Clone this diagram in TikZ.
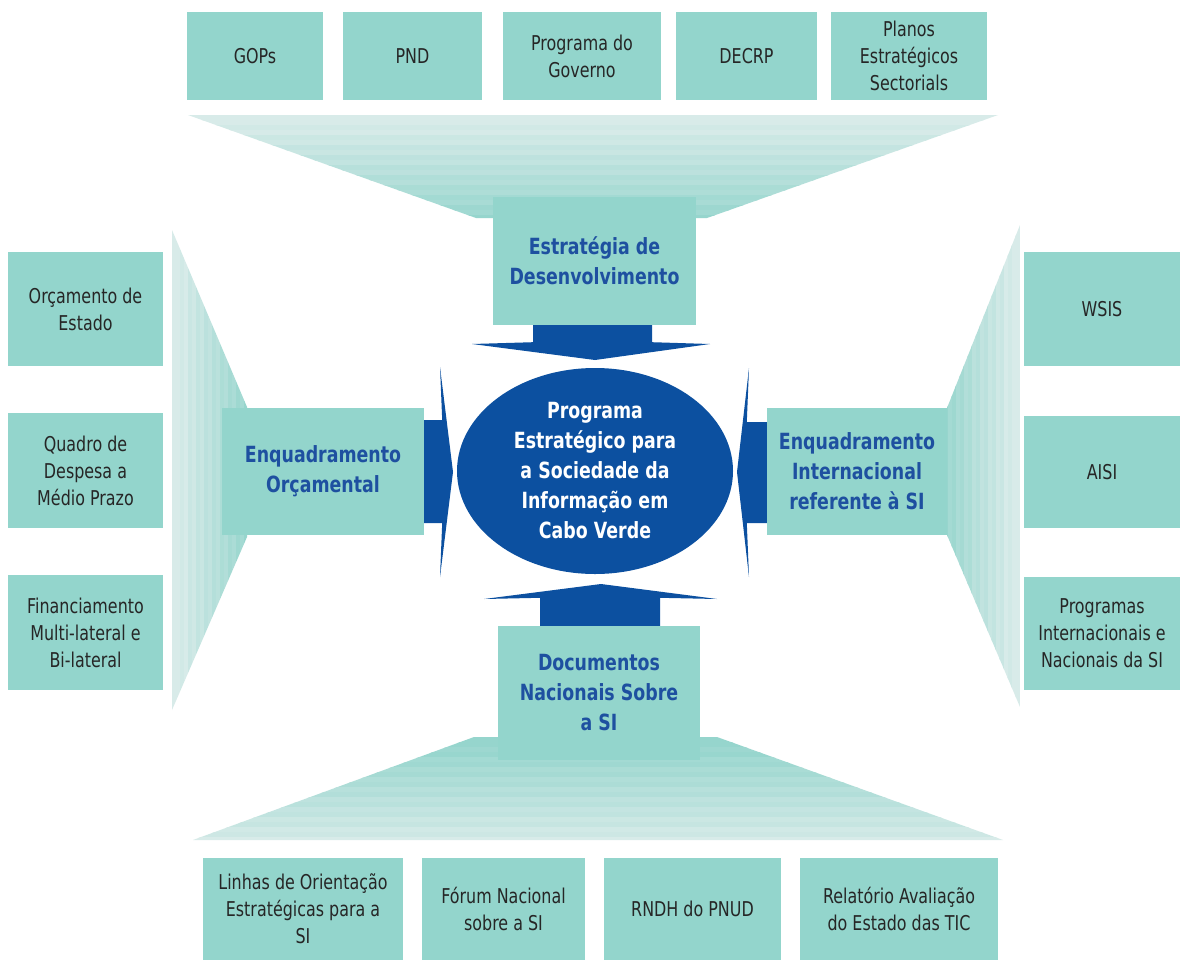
\documentclass[tikz,border=0pt]{standalone}
\usepackage{fontspec}
\setmainfont{DejaVu Sans}[FakeStretch=0.78]
\usetikzlibrary{calc,shapes.geometric}
\definecolor{boxc}{RGB}{147,213,204}
\definecolor{arrc}{RGB}{12,80,160}
\definecolor{lblc}{RGB}{30,80,160}
\definecolor{funlight}{RGB}{216,235,233}
\definecolor{fundark}{RGB}{150,213,205}
\tikzset{
  srcbox/.style={fill=boxc, draw=none, inner sep=2pt, align=center,
    font=\fontsize{20.4}{27}\selectfont, text=black!85},
  midbox/.style={fill=boxc, draw=none, inner sep=2pt, align=center,
    font=\fontsize{22.3}{30}\selectfont\bfseries, text=lblc},
  bigarrow/.style={fill=arrc, draw=none},
  core/.style={ellipse, fill=arrc, draw=none, inner sep=0pt,
    minimum width=276, minimum height=206, align=center,
    font=\fontsize{22.3}{30}\selectfont\bfseries, text=white}
}
\begin{document}
\begin{tikzpicture}[x=1pt,y=-1pt]
\useasboundingbox (0,0) rectangle (1180,961);
\fill[white] (0,0) rectangle (1180,961);

% ---------- funnels ----------
% top funnel (horizontal stripes, light at top, dark at bottom)
\begin{scope}
  \clip (188,115) -- (998,115) -- (707,218) -- (476,218) -- cycle;
  \foreach \i in {0,...,20}{
    \pgfmathtruncatemacro\p{max(0,min(100,5*\i - 12*mod(\i,2)))}
    \fill[fundark!\p!funlight] (0,115+5*\i) rectangle (1180,121+5*\i);
  }
\end{scope}
% bottom funnel (dark at top, light at bottom)
\begin{scope}
  \clip (474,737) -- (717,737) -- (1003,840) -- (193,840) -- cycle;
  \foreach \i in {0,...,20}{
    \pgfmathtruncatemacro\p{max(0,min(100,100-5*\i + 12*mod(\i,2)))}
    \fill[fundark!\p!funlight] (0,737+5*\i) rectangle (1180,743+5*\i);
  }
\end{scope}
% left funnel (vertical stripes, light outside)
\begin{scope}
  \clip (172,230) -- (247,407) -- (247,537) -- (172,710) -- cycle;
  \foreach \i in {0,...,18}{
    \pgfmathtruncatemacro\p{max(0,min(100,5.5*\i - 14*mod(\i,2)))}
    \fill[fundark!\p!funlight] (172+4*\i,0) rectangle (177+4*\i,961);
  }
\end{scope}
% right funnel
\begin{scope}
  \clip (1020,225) -- (947,408) -- (947,535) -- (1020,707) -- cycle;
  \foreach \i in {0,...,18}{
    \pgfmathtruncatemacro\p{max(0,min(100,5.5*\i - 14*mod(\i,2)))}
    \fill[fundark!\p!funlight] (1020-4*\i,0) rectangle (1015-4*\i,961);
  }
\end{scope}

% ---------- source boxes ----------
\node[srcbox, minimum width=136, minimum height=88] (gops)   at (255,56)   {GOPs};
\node[srcbox, minimum width=139, minimum height=88] (pnd)    at (412.5,56) {PND};
\node[srcbox, minimum width=158, minimum height=88] (progov) at (582,56)   {Programa do\\Governo};
\node[srcbox, minimum width=141, minimum height=88] (decrp)  at (746.5,56) {DECRP};
\node[srcbox, minimum width=156, minimum height=88] (planos) at (909,56)   {Planos\\Estratégicos\\Sectorials};

\node[srcbox, minimum width=155, minimum height=114] (orc)    at (85.5,309)   {Orçamento de\\Estado};
\node[srcbox, minimum width=155, minimum height=115] (quadro) at (85.5,470.5) {Quadro de\\Despesa a\\Médio Prazo};
\node[srcbox, minimum width=155, minimum height=115] (financ) at (85.5,632.5) {Financiamento\\Multi-lateral e\\Bi-lateral};

\node[srcbox, minimum width=156, minimum height=114] (wsis)   at (1102,309)   {WSIS};
\node[srcbox, minimum width=156, minimum height=112] (aisi)   at (1102,472)   {AISI};
\node[srcbox, minimum width=156, minimum height=113] (progint) at (1102,633.5) {Programas\\Internacionais e\\Nacionais da SI};

\node[srcbox, minimum width=200, minimum height=102] (linhas) at (303,909)   {Linhas de Orientação\\Estratégicas para a\\SI};
\node[srcbox, minimum width=163, minimum height=102] (forum)  at (503.5,909) {Fórum Nacional\\sobre a SI};
\node[srcbox, minimum width=177, minimum height=102] (rndh)   at (692.5,909) {RNDH do PNUD};
\node[srcbox, minimum width=198, minimum height=102] (relat)  at (899,909)   {Relatório Avaliação\\do Estado das TIC};

% ---------- middle boxes ----------
\node[midbox, minimum width=203, minimum height=128] (estr) at (594.5,261) {Estratégia de\\Desenvolvimento};
\node[midbox, minimum width=202, minimum height=127] (enqo) at (323,471.5) {Enquadramento\\Orçamental};
\node[midbox, minimum width=180, minimum height=127, inner sep=0pt] (enqi) at (857,471.5) {Enquadramento\\Internacional\\referente à SI};
\node[midbox, minimum width=202, minimum height=134] (docs) at (599,693) {Documentos\\Nacionais Sobre\\a SI};

% ---------- core ----------
\node[core] (core) at (595,471) {Programa\\Estratégico para\\a Sociedade da\\Informação em\\Cabo Verde};

% ---------- arrows into the core ----------
\fill[bigarrow] ($(estr.south)+(-61.5,0)$) -- ++(119,0) -- ++(0,17) -- (710,344)
  -- (core.north |- 0,360) -- (472,344) -- ($(estr.south)+(-61.5,17)$) -- cycle;
\fill[bigarrow] ($(docs.north)+(-59,0)$) -- ++(120,0) -- ++(0,-28) -- (717,599)
  -- (601,584) -- (484,599) -- ($(docs.north)+(-59,-28)$) -- cycle;
\fill[bigarrow] ($(enqo.east)+(0,-51.5)$) -- ++(18,0) -- (440,367) -- (453,472)
  -- (440,577) -- ($(enqo.east)+(18,51.5)$) -- ++(-18,0) -- cycle;
\fill[bigarrow] ($(enqi.west)+(0,-49.5)$) -- ++(-20,0) -- (749,368) -- (737,472)
  -- (749,577) -- ($(enqi.west)+(-20,51.5)$) -- ++(20,0) -- cycle;
\end{tikzpicture}
\end{document}
